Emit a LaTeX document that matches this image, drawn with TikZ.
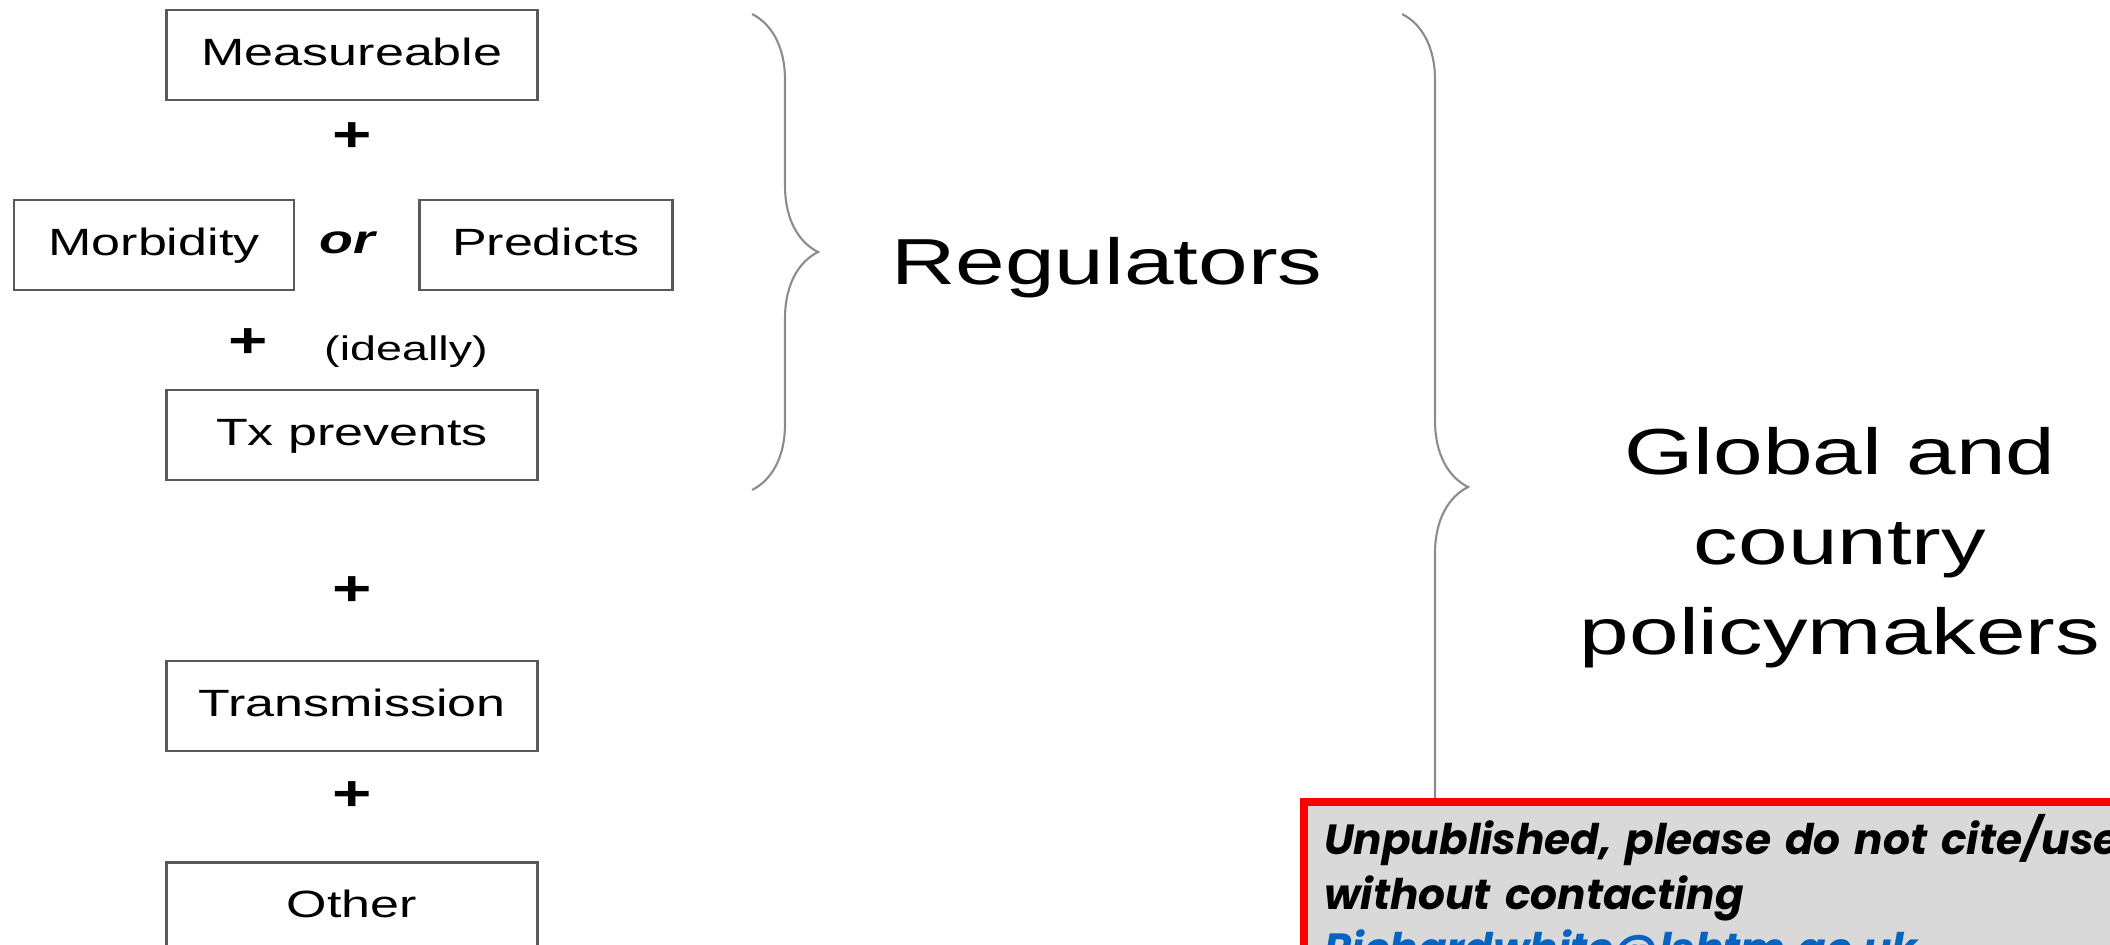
\documentclass[tikz,border=0pt]{standalone}
\usepackage{fontspec}
\setmainfont{Liberation Sans}[FakeStretch=1.37]
\newfontfamily\notefont{Poppins}
\usepackage{tikz}
\usetikzlibrary{positioning,decorations.pathreplacing}

\definecolor{boxgray}{HTML}{595959}
\definecolor{bracegray}{HTML}{8C8C8C}
\definecolor{notefill}{HTML}{D9D9D9}
\definecolor{linkblue}{HTML}{0563C1}

\begin{document}
\begin{tikzpicture}[
    x=0.01cm, y=-0.01cm,
    box/.style={
        draw=boxgray,
        line width=0.8pt,
        minimum width=3.7cm,
        minimum height=0.9cm,
        text height=0.28cm,
        text depth=0.08cm,
        font=\fontsize{10.8}{13}\selectfont
    },
    plus/.style={
        font=\fontsize{14}{16}\selectfont\bfseries
    },
    bigtext/.style={
        align=center,
        font=\fontsize{18.5}{25.6}\selectfont
    },
    bracket/.style={
        draw=bracegray,
        line width=0.6pt,
        decorate,
        decoration={brace, amplitude=0.66cm}
    },
    note/.style={
        draw=red,
        fill=notefill,
        line width=2.3pt,
        align=left,
        text width=8.6cm,
        inner xsep=0.2cm,
        inner ysep=0.12cm,
        font=\notefont\fontsize{12}{15.6}\selectfont\bfseries\itshape
    }
]

\useasboundingbox (0,0) rectangle (2110,944);
\clip (0,0) rectangle (2110,944);

\node[box] (measure) at (352,55) {Measureable};

\node[plus] (plusa) at (352,137) {+};

\node[box, minimum width=2.8cm] (morbid) at (154,245) {Morbidity};

\node[font=\fontsize{11.5}{13}\selectfont\bfseries\itshape] (or) at (347,243) {or};

\node[box, minimum width=2.53cm] (predict) at (546,245) {Predicts};

\node[plus] (plusb) at (248,343) {+};

\node[font=\fontsize{9.7}{12}\selectfont] (ideal) at (406,352) {(ideally)};

\node[box] (tx) at (352,435) {Tx prevents};

\node[plus] (plusc) at (352,591) {+};

\node[box, below=1.78cm of tx] (trans) {Transmission};

\node[plus] (plusd) at (352,796) {+};

\node[box, below=1.09cm of trans] (other) {Other};

\node[bigtext] (regul) at (1107,268) {Regulators};

\node[bigtext] (policy) at (1840,548) {
    Global and\\
    country\\
    policymakers
};

\coordinate (bra) at (752,14);
\coordinate (brb) at (752,490);
\coordinate (brc) at (1402,14);
\coordinate (brd) at (1402,960);

\draw[bracket] (bra) -- (brb);

\draw[bracket] (brc) -- (brd);

\node[note, anchor=north west] (notice) at (1300,798) {
    Unpublished, please do not cite/use\\
    without contacting\\
    \textcolor{linkblue}{Richardwhite@lshtm.ac.uk}
};

\end{tikzpicture}
\end{document}
